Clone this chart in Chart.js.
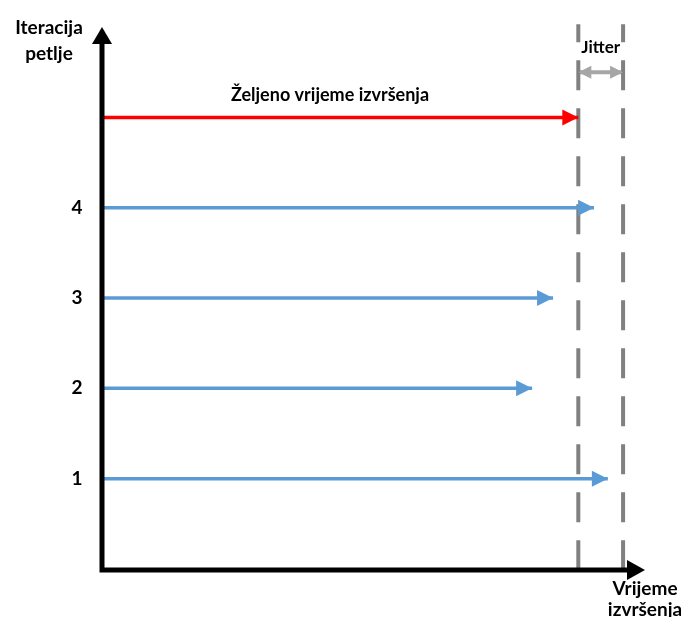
<!DOCTYPE html>
<html>
<head>
<meta charset="utf-8">
<script src="https://cdn.jsdelivr.net/npm/chart.js@4/dist/chart.umd.min.js"></script>
<style>
  body { margin: 0; background: #fff; }
  #wrap { width: 681px; height: 617px; }
</style>
</head>
<body>
<div id="wrap"><canvas id="myChart" width="681" height="617"></canvas></div>
<script>
"use strict";

// iterations of the loop and where each one ends (time units, desired = 100)
var iterations = ['1', '2', '3', '4'];
var iterationEnd = [106.2, 90.3, 94.7, 103.3];
var desiredTime = 100;
var jitterEnd = 109.4;
var desiredRow = 5;
var jitterRow = 5.5;
var dashTop = 6.03;

var desiredLabel = 'Željeno vrijeme izvršenja';
var jitterLabel = 'Jitter';
var yTitle = ['Iteracija', 'petlje'];
var xTitle = ['Vrijeme', 'izvršenja'];

function font(size) {
    return "bold " + size + "px Lato, 'Open Sans', sans-serif";
}

var datasets = [];
iterations.forEach(function (lab, i) {
    datasets.push({
        data: [{ x: 0, y: i + 1 }, { x: iterationEnd[i], y: i + 1 }],
        borderColor: '#5b9bd5',
        borderWidth: 3.5,
        arrow: 'end'
    });
});
datasets.push({
    data: [{ x: 0, y: desiredRow }, { x: desiredTime, y: desiredRow }],
    borderColor: '#ff0000',
    borderWidth: 3.5,
    arrow: 'end'
});
[desiredTime, jitterEnd].forEach(function (t) {
    datasets.push({
        data: [{ x: t, y: dashTop }, { x: t, y: 0 }],
        borderColor: '#808080',
        borderWidth: 4,
        borderDash: [30, 18],
        borderDashOffset: 12
    });
});
datasets.push({
    data: [{ x: desiredTime, y: jitterRow }, { x: jitterEnd, y: jitterRow }],
    borderColor: '#a6a6a6',
    borderWidth: 4,
    arrow: 'both'
});

function head(ctx, x, y, dx, dy, len, half, color) {
    // dx,dy = unit direction of the arrow
    ctx.fillStyle = color;
    ctx.beginPath();
    ctx.moveTo(x, y);
    ctx.lineTo(x - dx * len - dy * half, y - dy * len + dx * half);
    ctx.lineTo(x - dx * len + dy * half, y - dy * len - dx * half);
    ctx.closePath();
    ctx.fill();
}

var drawing = {
    id: 'drawing',
    beforeDraw: function (c) {
        var ctx = c.ctx;
        ctx.save();
        ctx.fillStyle = '#fff';
        ctx.fillRect(0, 0, c.width, c.height);
        ctx.restore();
    },
    afterDatasetsDraw: function (c) {
        var ctx = c.ctx, xs = c.scales.x, ys = c.scales.y, a = c.chartArea;
        ctx.save();
        c.data.datasets.forEach(function (ds) {
            if (!ds.arrow) return;
            var p0 = ds.data[0], p1 = ds.data[1];
            var x0 = xs.getPixelForValue(p0.x), x1 = xs.getPixelForValue(p1.x);
            var y = ys.getPixelForValue(p0.y);
            if (ds.arrow === 'both') {
                head(ctx, x1, y, 1, 0, 13, 6.5, ds.borderColor);
                head(ctx, x0, y, -1, 0, 13, 6.5, ds.borderColor);
            } else {
                head(ctx, x1, y, 1, 0, 16, 8, ds.borderColor);
            }
        });

        // axes
        var ox = a.left, oy = a.bottom + 1;
        ctx.strokeStyle = '#000';
        ctx.lineWidth = 5;
        ctx.beginPath();
        ctx.moveTo(ox, oy);
        ctx.lineTo(ox, 40);
        ctx.moveTo(ox - 2.5, oy);
        ctx.lineTo(a.right - 16, oy);
        ctx.stroke();
        head(ctx, ox, 27, 0, -1, 17, 10, '#000');
        head(ctx, a.right, oy, 1, 0, 18, 10, '#000');

        // texts
        ctx.fillStyle = '#000';
        ctx.textAlign = 'center';
        ctx.textBaseline = 'middle';
        ctx.font = font(19);
        iterations.forEach(function (lab, i) {
            ctx.fillText(lab, 77, ys.getPixelForValue(i + 1));
        });
        ctx.fillText(yTitle[0], 49, 28);
        ctx.fillText(yTitle[1], 49, 54);
        ctx.fillText(xTitle[0], 645, 589);
        ctx.fillText(xTitle[1], 645, 610);
        ctx.font = font(18);
        ctx.fillText(desiredLabel, 330, ys.getPixelForValue(desiredRow) - 22);
        ctx.font = font(17);
        ctx.fillText(jitterLabel, (xs.getPixelForValue(desiredTime) + xs.getPixelForValue(jitterEnd)) / 2, 48);
        ctx.restore();
    }
};

var chart = new Chart(document.getElementById('myChart').getContext('2d'), {
    type: 'scatter',
    data: { datasets: datasets },
    options: {
        responsive: false,
        animation: false,
        showLine: true,
        elements: { point: { radius: 0, hoverRadius: 0 } },
        layout: { padding: { left: 102, right: 36, top: 9, bottom: 48 } },
        scales: {
            x: { display: false, min: 0, max: 114 },
            y: { display: false, min: 0, max: 6.2 }
        },
        plugins: {
            legend: { display: false },
            tooltip: { enabled: false }
        }
    },
    plugins: [drawing]
});
</script>
</body>
</html>
